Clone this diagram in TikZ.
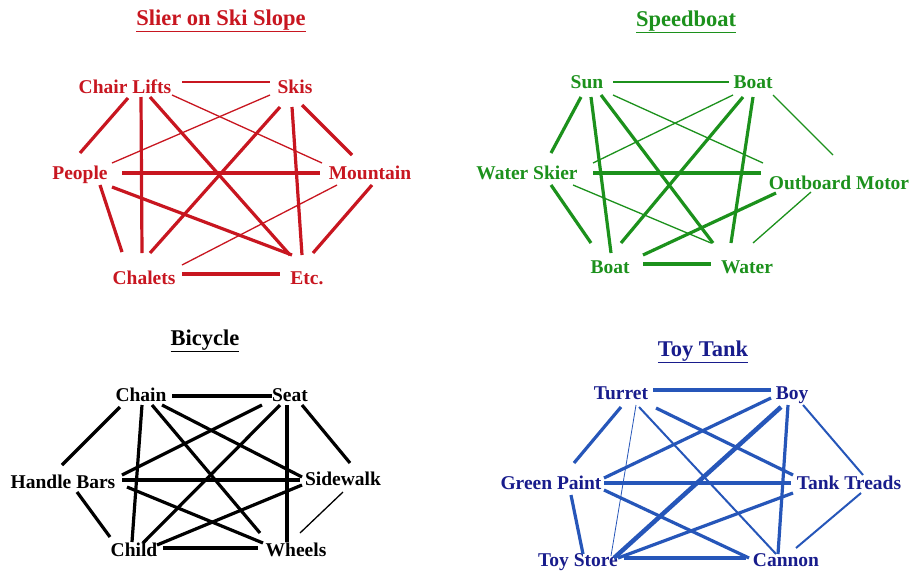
\documentclass[tikz,border=0pt]{standalone}
\usepackage{fontspec}
\setmainfont{Liberation Serif}
\definecolor{skired}{RGB}{200,22,32}
\definecolor{boatgreen}{RGB}{28,145,28}
\definecolor{tankblue}{RGB}{38,86,185}
\definecolor{tanktext}{RGB}{24,28,140}
\newcommand{\wordfont}{\fontsize{19.5}{19.5}\selectfont\bfseries}
\newcommand{\headfont}{\fontsize{22.5}{22.5}\selectfont\bfseries}
\tikzstyle{word}=[inner sep=0pt, text height=13pt, text depth=0pt, font=\wordfont]
\tikzstyle{head}=[inner sep=0pt, anchor=base, font=\headfont]
\tikzstyle{thk}=[line width=3.2pt]
\tikzstyle{thn}=[line width=1.3pt]
\tikzstyle{hvy}=[line width=4.5pt]

\begin{document}
\begin{tikzpicture}[x=1pt,y=-1pt]
\useasboundingbox[fill=white] (0,0) rectangle (912,571);

% skier on ski slope
\begin{scope}[color=skired]
\node[head] (t1) at (221,25) {\underline{Slier on Ski Slope}};
\node[word] (cl) at (125,87) {Chair Lifts};
\node[word] (sk) at (295,87) {Skis};
\node[word] (pe) at (80,173) {People};
\node[word] (mo) at (370,173) {Mountain};
\node[word] (ca) at (144,278) {Chalets};
\node[word] (et) at (307,278) {Etc.};

\draw[thn] ([shift={(57,-5)}]cl.center) -- ([shift={(-25,-5)}]sk.center);
\draw[thk] ([shift={(3,11)}]cl.center) -- ([shift={(0,-20)}]pe.center);
\draw[thk] ([shift={(16,10)}]cl.center) -- ([shift={(-2,-25)}]ca.center);
\draw[thk] ([shift={(25,10)}]cl.center) -- ([shift={(-17,-23)}]et.center);
\draw[thn] ([shift={(47,8)}]cl.center) -- ([shift={(-48,-10)}]mo.center);
\draw[thn] ([shift={(-25,8)}]sk.center) -- ([shift={(32,-10)}]pe.center);
\draw[thk] ([shift={(-15,20)}]sk.center) -- ([shift={(6,-25)}]ca.center);
\draw[thk] ([shift={(-3,20)}]sk.center) -- ([shift={(-5,-23)}]et.center);
\draw[thk] ([shift={(7,18)}]sk.center) -- ([shift={(-18,-18)}]mo.center);
\draw[thk] ([shift={(42,0)}]pe.center) -- ([shift={(-50,0)}]mo.center);
\draw[thk] ([shift={(20,12)}]pe.center) -- ([shift={(-22,-26)}]ca.center);
\draw[thk] ([shift={(32,14)}]pe.center) -- ([shift={(-15,-23)}]et.center);
\draw[thn] ([shift={(-33,12)}]mo.center) -- ([shift={(38,-13)}]ca.center);
\draw[thk] ([shift={(2,12)}]mo.center) -- ([shift={(6,-25)}]et.center);
\draw[thk] ([shift={(38,-4)}]ca.center) -- ([shift={(-27,-4)}]et.center);
\end{scope}

% speedboat
\begin{scope}[color=boatgreen]
\node[head] (t2) at (686,26) {\underline{Speedboat}};
\node[word] (su) at (587,82) {Sun};
\node[word] (bt) at (753,82) {Boat};
\node[word] (ws) at (527,173) {Water Skier};
\node[word] (om) at (839,183) {Outboard Motor};
\node[word] (bb) at (610,267) {Boat};
\node[word] (wa) at (747,267) {Water};

\draw[thn] ([shift={(26,0)}]su.center) -- ([shift={(-24,0)}]bt.center);
\draw[thk] ([shift={(-6,15)}]su.center) -- ([shift={(24,-20)}]ws.center);
\draw[thk] ([shift={(4,15)}]su.center) -- ([shift={(1,-14)}]bb.center);
\draw[thk] ([shift={(14,13)}]su.center) -- ([shift={(-34,-24)}]wa.center);
\draw[thn] ([shift={(26,13)}]su.center) -- ([shift={(-76,-20)}]om.center);
\draw[thn] ([shift={(-20,13)}]bt.center) -- ([shift={(66,-10)}]ws.center);
\draw[thk] ([shift={(-10,15)}]bt.center) -- ([shift={(11,-24)}]bb.center);
\draw[thk] ([shift={(0,15)}]bt.center) -- ([shift={(-16,-24)}]wa.center);
\draw[thn] ([shift={(20,13)}]bt.center) -- ([shift={(-6,-28)}]om.center);
\draw[thk] ([shift={(66,0)}]ws.center) -- ([shift={(-78,-10)}]om.center);
\draw[thk] ([shift={(24,12)}]ws.center) -- ([shift={(-19,-24)}]bb.center);
\draw[thn] ([shift={(46,12)}]ws.center) -- ([shift={(-36,-24)}]wa.center);
\draw[thk] ([shift={(-63,10)}]om.center) -- ([shift={(33,-12)}]bb.center);
\draw[thn] ([shift={(-28,9)}]om.center) -- ([shift={(6,-24)}]wa.center);
\draw[thk] ([shift={(33,-3)}]bb.center) -- ([shift={(-36,-3)}]wa.center);
\end{scope}

% bicycle
\begin{scope}[color=black]
\node[head] (t3) at (205,345) {\underline{Bicycle}};
\node[word] (ch) at (141,395) {Chain};
\node[word] (se) at (290,395) {Seat};
\node[word] (hb) at (63,482) {Handle Bars};
\node[word] (sw) at (343,479) {Sidewalk};
\node[word] (cd) at (134,550) {Child};
\node[word] (wh) at (296,550) {Wheels};

\draw[thk] ([shift={(31,1)}]ch.center) -- ([shift={(-18,1)}]se.center);
\draw[thk] ([shift={(-21,12)}]ch.center) -- ([shift={(-1,-17)}]hb.center);
\draw[thk] ([shift={(1,10)}]ch.center) -- ([shift={(-2,-8)}]cd.center);
\draw[thk] ([shift={(11,10)}]ch.center) -- ([shift={(-36,-17)}]wh.center);
\draw[thk] ([shift={(21,10)}]ch.center) -- ([shift={(-41,-2)}]sw.center);
\draw[thk] ([shift={(-28,10)}]se.center) -- ([shift={(59,-7)}]hb.center);
\draw[thk] ([shift={(-10,10)}]se.center) -- ([shift={(9,-7)}]cd.center);
\draw[thk] ([shift={(-3,10)}]se.center) -- ([shift={(-9,-8)}]wh.center);
\draw[thk] ([shift={(12,10)}]se.center) -- ([shift={(7,-16)}]sw.center);
\draw[thk] ([shift={(59,-2)}]hb.center) -- ([shift={(-43,1)}]sw.center);
\draw[thk] ([shift={(14,10)}]hb.center) -- ([shift={(-24,-13)}]cd.center);
\draw[thk] ([shift={(64,5)}]hb.center) -- ([shift={(-33,-7)}]wh.center);
\draw[thk] ([shift={(-41,6)}]sw.center) -- ([shift={(23,-5)}]cd.center);
\draw[thn] ([shift={(0,13)}]sw.center) -- ([shift={(4,-17)}]wh.center);
\draw[thk] ([shift={(29,-2)}]cd.center) -- ([shift={(-38,-2)}]wh.center);
\end{scope}

% toy tank
\begin{scope}[color=tankblue]
\node[head, text=tanktext] (t4) at (703,356) {\underline{Toy Tank}};
\node[word, text=tanktext] (tu) at (621,393) {Turret};
\node[word, text=tanktext] (bo) at (792,393) {Boy};
\node[word, text=tanktext] (gp) at (551,483) {Green Paint};
\node[word, text=tanktext] (tt) at (849,483) {Tank Treads};
\node[word, text=tanktext] (ts) at (578,560) {Toy Store};
\node[word, text=tanktext] (cn) at (786,560) {Cannon};

\draw[thk] ([shift={(32,-3)}]tu.center) -- ([shift={(-21,-3)}]bo.center);
\draw[thk] ([shift={(0,14)}]tu.center) -- ([shift={(23,-20)}]gp.center);
\draw[line width=0.8pt] ([shift={(15,12)}]tu.center) -- ([shift={(33,-4)}]ts.center);
\draw[line width=2pt] ([shift={(18,14)}]tu.center) -- ([shift={(-10,-6)}]cn.center);
\draw[thk] ([shift={(35,15)}]tu.center) -- ([shift={(-56,-8)}]tt.center);
\draw[thk] ([shift={(-21,5)}]bo.center) -- ([shift={(53,-5)}]gp.center);
\draw[hvy] ([shift={(-11,14)}]bo.center) -- ([shift={(36,-2)}]ts.center);
\draw[thk] ([shift={(-4,12)}]bo.center) -- ([shift={(-8,-6)}]cn.center);
\draw[line width=2pt] ([shift={(11,12)}]bo.center) -- ([shift={(14,-8)}]tt.center);
\draw[thk] ([shift={(53,0)}]gp.center) -- ([shift={(-58,0)}]tt.center);
\draw[thk] ([shift={(20,12)}]gp.center) -- ([shift={(5,-6)}]ts.center);
\draw[thk] ([shift={(53,7)}]gp.center) -- ([shift={(-37,-2)}]cn.center);
\draw[thk] ([shift={(-56,10)}]tt.center) -- ([shift={(40,-2)}]ts.center);
\draw[line width=2pt] ([shift={(12,10)}]tt.center) -- ([shift={(10,-12)}]cn.center);
\draw[thk] ([shift={(46,-2)}]ts.center) -- ([shift={(-40,-2)}]cn.center);
\end{scope}
\end{tikzpicture}
\end{document}
